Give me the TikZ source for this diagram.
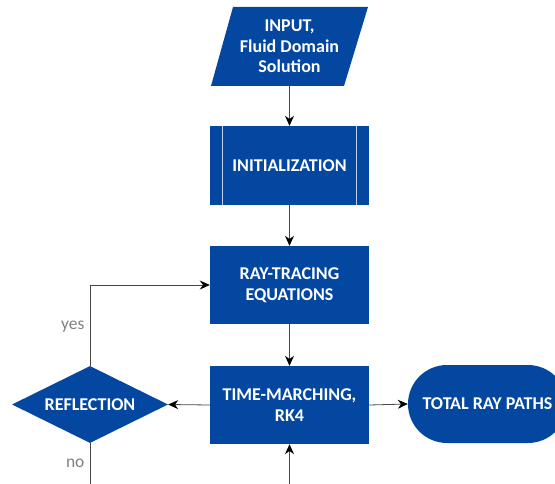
\documentclass[tikz,border=0pt]{standalone}
\usepackage{fontspec}
\setmainfont{Carlito}
\usetikzlibrary{shapes.geometric,arrows.meta}
\definecolor{boxblue}{RGB}{4,71,161}
\definecolor{linegrey}{RGB}{70,70,70}
\definecolor{lblgrey}{RGB}{128,128,128}
\begin{document}
\begin{tikzpicture}[x=1pt,y=-1pt,
  boxtxt/.style={text=white,font=\fontsize{18}{20.5}\selectfont\bfseries,align=center},
  procbox/.style={boxtxt,fill=boxblue,minimum width=159pt,minimum height=78pt,inner sep=0pt},
  conn/.style={draw=linegrey,line width=0.8pt,-{Stealth[length=10pt,width=9pt,black]}},
  plainline/.style={draw=linegrey,line width=0.8pt},
  lbl/.style={text=lblgrey,font=\fontsize{17.5}{20}\selectfont}]
\useasboundingbox (0,0) rectangle (555,484);
% input parallelogram
\fill[boxblue] (233,7) -- (368,7) -- (344,86) -- (211,86) -- cycle;
\node[boxtxt,minimum width=130pt,minimum height=79pt,inner sep=0pt] (in) at (289.5,46.5) {INPUT,\\Fluid Domain\\Solution};
% initialization
\node[procbox,minimum height=79pt] (init) at (289.5,165.5) {INITIALIZATION};
\draw[white!75!boxblue,line width=0.8pt] ([xshift=13pt]init.north west) -- ([xshift=13pt]init.south west);
\draw[white!75!boxblue,line width=0.8pt] ([xshift=-13pt]init.north east) -- ([xshift=-13pt]init.south east);
% ray-tracing
\node[procbox] (ray) at (289.5,285) {RAY-TRACING\\EQUATIONS};
% time marching
\node[procbox] (time) at (289.5,405) {TIME-MARCHING,\\RK4};
% reflection
\node[diamond,fill=boxblue,boxtxt,minimum width=156pt,minimum height=77pt,inner sep=0pt,aspect=2] (refl) at (90,404.5) {REFLECTION};
% total
\node[boxtxt,fill=boxblue,minimum width=159pt,minimum height=78pt,rounded corners=39pt,inner sep=0pt] (tot) at (487.5,404) {TOTAL RAY PATHS};
% bottom coordinates
\coordinate (bin) at (289.5,484);
\coordinate (bno) at (90,484);
% connectors
\draw[conn] (in.south) -- (init.north);
\draw[conn] (init.south) -- (ray.north);
\draw[conn] (ray.south) -- (time.north);
\draw[conn] (bin) -- (time.south);
\draw[conn] (time.west) -- (refl.east);
\draw[conn] (time.east) -- (tot.west);
\draw[conn] (refl.north) |- (ray.west);
\draw[plainline] (refl.south) -- (bno);
\node[lbl,anchor=east] (yes) at (88,327) {yes};
\node[lbl,anchor=east] (no) at (88,463) {no};
\end{tikzpicture}
\end{document}
